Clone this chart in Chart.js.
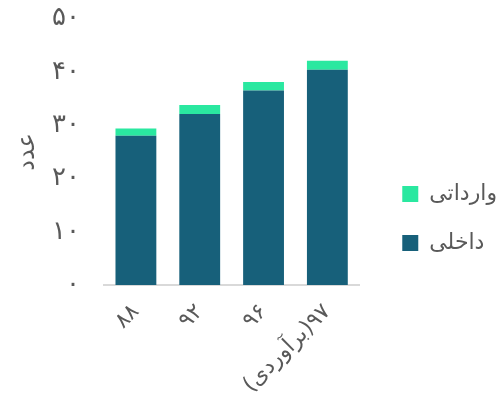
<!DOCTYPE html>
<html>
<head>
<meta charset="utf-8">
<script src="https://cdn.jsdelivr.net/npm/chart.js@4.4.0/dist/chart.umd.min.js"></script>
<style>
html,body{margin:0;padding:0;background:#fff;}
canvas{display:block;}
</style>
</head>
<body>
<canvas id="c" width="501" height="408" dir="rtl"></canvas>
<script>
const categories = ['۸۸', '۹۲', '۹۶', '۹۷(برآوردی)'];
const domestic = [28.0, 32.1, 36.5, 40.4];
const imported = [1.4, 1.7, 1.6, 1.7];
const seriesNames = ['داخلی', 'وارداتی'];
const yTickLabels = {0:'۰', 10:'۱۰', 20:'۲۰', 30:'۳۰', 40:'۴۰', 50:'۵۰'};
const yTitle = 'عدد';

const FONT = "'DejaVu Sans', sans-serif";
const TXT = '#595959';

new Chart(document.getElementById('c'), {
  type: 'bar',
  data: {
    labels: categories,
    datasets: [
      { label: seriesNames[0], data: domestic, backgroundColor: '#17607a', borderWidth: 0 },
      { label: seriesNames[1], data: imported, backgroundColor: '#2ae8a0', borderWidth: 0 }
    ]
  },
  options: {
    responsive: false,
    animation: false,
    layout: { padding: { top: 6, right: -6, left: 10, bottom: -4 } },
    datasets: { bar: { categoryPercentage: 0.8, barPercentage: 0.8 } },
    plugins: {
      tooltip: { enabled: false },
      legend: {
        position: 'right',
        reverse: true,
        maxWidth: 220,
        title: { display: true, text: ' ', font: { size: 1 }, padding: { top: 18, bottom: 0 } },
        labels: {
          boxWidth: 16, boxHeight: 16, padding: 27,
          color: TXT,
          font: { family: FONT, size: 22 }
        }
      }
    },
    scales: {
      x: {
        stacked: true,
        grid: { display: false, drawTicks: false },
        border: { display: true, color: '#d9d9d9', width: 2 },
        ticks: {
          minRotation: 45, maxRotation: 45, padding: 14,
          color: TXT, font: { family: FONT, size: 22 }
        }
      },
      y: {
        stacked: true,
        min: 0, max: 50,
        grid: { display: false, drawTicks: true, tickLength: 21 },
        border: { display: false },
        afterFit: s => { s.width = 94; },
        ticks: {
          stepSize: 10, padding: 3,
          color: TXT, font: { family: FONT, size: 26 },
          callback: v => yTickLabels[v]
        },
        title: {
          display: true, text: yTitle, color: TXT,
          font: { family: FONT, size: 24 }, padding: { top: 3, bottom: 7 }
        }
      },
      ySpacer: {
        position: 'right',
        display: true,
        grid: { display: false, drawTicks: true, tickLength: 16 },
        border: { display: false },
        afterFit: s => { s.width = 16; },
        ticks: { display: false }
      }
    }
  }
});
</script>
</body>
</html>
